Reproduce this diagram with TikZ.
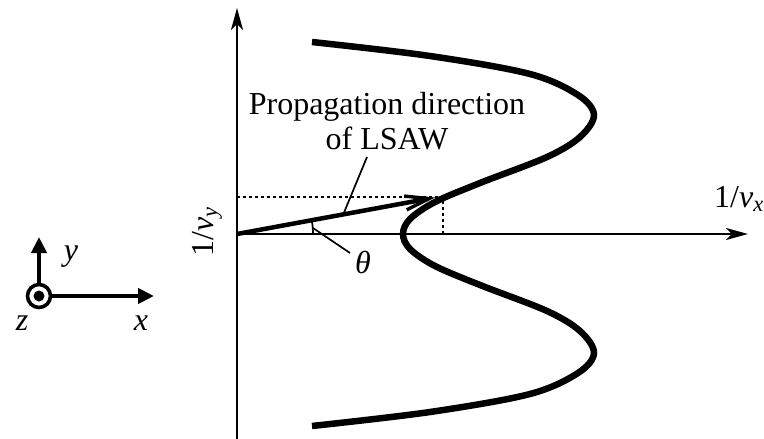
\documentclass[tikz,border=0pt]{standalone}
\usepackage{fontspec}
\setmainfont{Liberation Serif}
\usetikzlibrary{arrows.meta}

\begin{document}
\begin{tikzpicture}[x=1pt, y=-1pt,
    every node/.style={font=\fontsize{32}{35}\selectfont, inner sep=0pt},
    axis/.style={line width=2.6pt, -{Stealth[length=22pt, width=12pt, inset=6pt]}},
    frame/.style={line width=4pt, -{Triangle[length=16pt, width=15pt]}},
    guide/.style={line width=2.8pt, dash pattern=on 3pt off 3pt},
    leader/.style={line width=1.7pt}]
    \useasboundingbox (0,0) rectangle (764,439);
    \coordinate (O) at (237, 234);
    \coordinate (Ytop) at (237, 8);
    \coordinate (Ybot) at (237, 439);
    \coordinate (Xend) at (748, 234);
    \coordinate (P) at (443, 197);
    \coordinate (Py) at (237, 197);
    \coordinate (Px) at (443, 234);
    \coordinate (Tip) at (435, 197.5);
    \def\R{76}

    % 1. Axes
    \draw[axis] (Ybot) -- (Ytop);
    \draw[axis] (O) -- (Xend);
    \node[rotate=90] (vy) at (207, 232) {1/\textit{v}\textsubscript{\textit{y}}};
    \node (vx) at (739, 199) {1/\textit{v}\textsubscript{\textit{x}}};

    % 2. Slowness curve
    \draw[line width=6.5pt, line cap=butt] plot[smooth, tension=0.55] coordinates {
        (312,42) (430,56) (530,74) (578,95) (594,115) (580,137) (547,157)
        (480,183) (435,202) (410,219) (403,234) (410,249) (435,266)
        (480,285) (547,311) (580,331) (594,353) (578,373) (530,394)
        (430,412) (312,426)};

    % 3. Propagation vector and projections
    \draw[guide] (Py) -- (P) -- (Px);
    \draw[line width=4.5pt, -{Straight Barb[length=24pt, width=14pt, line width=3.4pt]}] (O) -- (Tip);
    \node[align=center] (prop) at (387, 121) {Propagation direction\\of LSAW};
    \coordinate (propfoot) at (367, 157);
    \coordinate (vecpt) at (343, 215);
    \draw[leader] (propfoot) -- (vecpt);

    % 4. Angle theta
    \draw[leader] ([shift={(O)}]0:\R) arc[start angle=0, end angle=-10.3, radius=\R];
    \coordinate (thmark) at (313, 228);
    \coordinate (thfoot) at (350, 253);
    \draw[leader] (thmark) -- (thfoot);
    \node (theta) at (363, 262) {\textit{θ}};

    % 5. Coordinate frame
    \coordinate (C) at (39, 296);
    \coordinate (Cy) at (39, 237);
    \coordinate (Cx) at (154, 296);
    \draw[frame] ([yshift=13pt]C) -- (Cy);
    \draw[frame] ([xshift=13pt]C) -- (Cx);
    \draw[line width=3.6pt] (C) circle (11.5);
    \fill (C) circle (5.5);
    \node (ly) at (71, 257) {\textit{y}};
    \node (lx) at (141, 323) {\textit{x}};
    \node (lz) at (22, 323) {\textit{z}};
\end{tikzpicture}
\end{document}
